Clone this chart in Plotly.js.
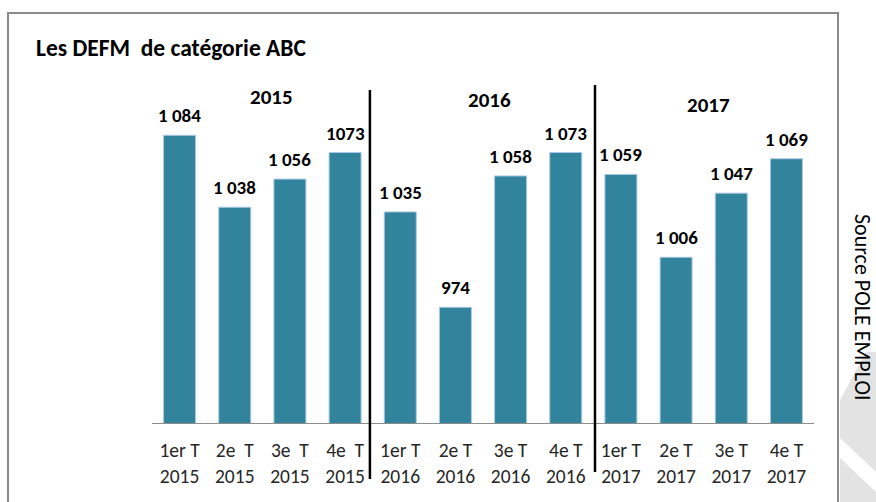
<!DOCTYPE html>
<html><head><meta charset="utf-8">
<script src="https://cdn.plot.ly/plotly-3.0.1.min.js"></script>
<style>html,body{margin:0;padding:0;background:#fff}#chart{width:876px;height:502px}</style>
</head><body><div id="chart"></div>
<script>
// ---- data ----
const quarters = ['1er T<br>2015','2e  T<br>2015','3e  T<br>2015','4e  T<br>2015',
                  '1er T<br>2016','2e T<br>2016','3e T<br>2016','4e T<br>2016',
                  '1er T<br>2017','2e T<br>2017','3e T<br>2017','4e T<br>2017'];
const values = [1084, 1038, 1056, 1073, 1035, 974, 1058, 1073, 1059, 1006, 1047, 1069];
const valueLabels = ['1 084','1 038','1 056','1073','1 035','974','1 058','1 073','1 059','1 006','1 047','1 069'];
const years = ['2015','2016','2017'];
const titleText = 'Les DEFM  de catégorie ABC';
const sourceText = 'Source POLE EMPLOI';

// ---- layout helpers (pixel -> paper) ----
const W = 876, H = 502, L = 152, R = 62, T = 60, B = 79;
const PW = W - L - R, PH = H - T - B;
const px = x => (x - L) / PW;
const py = y => (H - B - y) / PH;
const FONT = 'Carlito, Lato, "Open Sans", sans-serif';

const xs = quarters.map((_, i) => i);

const trace = {
  type: 'bar', x: xs, y: values,
  marker: {color: '#31849b', line: {color: '#a9c8e6', width: 1}},
  hoverinfo: 'skip'
};

function poly(pts) {
  return 'M' + pts.map(p => px(p[0]).toFixed(4) + ',' + py(p[1]).toFixed(4)).join(' L') + ' Z';
}

const yearX = [271, 489, 708], yearY = [97, 100, 105];

const valueAnnotations = values.map((v, i) => ({
  text: '<b>' + valueLabels[i] + '</b>', xref: 'x', yref: 'y', x: xs[i], y: v,
  xanchor: 'center', yanchor: 'bottom', yshift: 6, showarrow: false,
  font: {family: FONT, size: 19, color: '#000'}
}));

const layout = {
  width: W, height: H,
  margin: {l: L, r: R, t: T, b: B, pad: 0},
  paper_bgcolor: '#fff', plot_bgcolor: 'rgba(0,0,0,0)',
  showlegend: false,
  bargap: 0.42,
  font: {family: FONT, color: '#262626'},
  title: {text: '<b>' + titleText + '</b>', font: {family: FONT, size: 23.5, color: '#000'},
          x: 36 / W, xanchor: 'left', xref: 'container', y: 1 - 48 / H, yanchor: 'middle', yref: 'container'},
  xaxis: {
    range: [-0.5, 11.5], tickvals: xs, ticktext: quarters,
    showline: true, linecolor: '#8c8c8c', linewidth: 1,
    showgrid: false, zeroline: false, ticks: '',
    ticklabelstandoff: 10,
    tickfont: {family: FONT, size: 19.5, color: '#262626'}
  },
  yaxis: {range: [900, 900 + PH / 1.5636], visible: false, showgrid: false, zeroline: false},
  shapes: [
    {type: 'rect', xref: 'paper', yref: 'paper', x0: px(8), x1: px(838), y0: py(530), y1: py(13),
     line: {color: '#8c8c8c', width: 2}, fillcolor: 'rgba(0,0,0,0)', layer: 'below'},
    {type: 'path', xref: 'paper', yref: 'paper', path: poly([[840,400],[866,352],[876,352],[876,472],[840,438]]),
     fillcolor: '#e3e3e3', line: {width: 0}, layer: 'below'},
    {type: 'path', xref: 'paper', yref: 'paper', path: poly([[840,458],[876,492],[876,502],[840,502]]),
     fillcolor: '#e3e3e3', line: {width: 0}, layer: 'below'},
    {type: 'line', xref: 'x', yref: 'paper', x0: 3.45, x1: 3.45, y0: py(479), y1: py(90),
     line: {color: '#000', width: 2.5}},
    {type: 'line', xref: 'x', yref: 'paper', x0: 7.53, x1: 7.53, y0: py(472), y1: py(85),
     line: {color: '#000', width: 2.5}}
  ],
  annotations: valueAnnotations.concat(years.map((yr, i) => ({
    text: '<b>' + yr + '</b>', xref: 'paper', yref: 'paper', x: px(yearX[i]), y: py(yearY[i]),
    xanchor: 'center', yanchor: 'middle', showarrow: false,
    font: {family: FONT, size: 21, color: '#000'}
  }))).concat([{
    text: sourceText, xref: 'paper', yref: 'paper', x: px(863), y: py(307),
    xanchor: 'center', yanchor: 'middle', showarrow: false, textangle: 90,
    font: {family: FONT, size: 22, color: '#000'}
  }])
};

Plotly.newPlot('chart', [trace], layout, {displayModeBar: false, staticPlot: true});
</script></body></html>
